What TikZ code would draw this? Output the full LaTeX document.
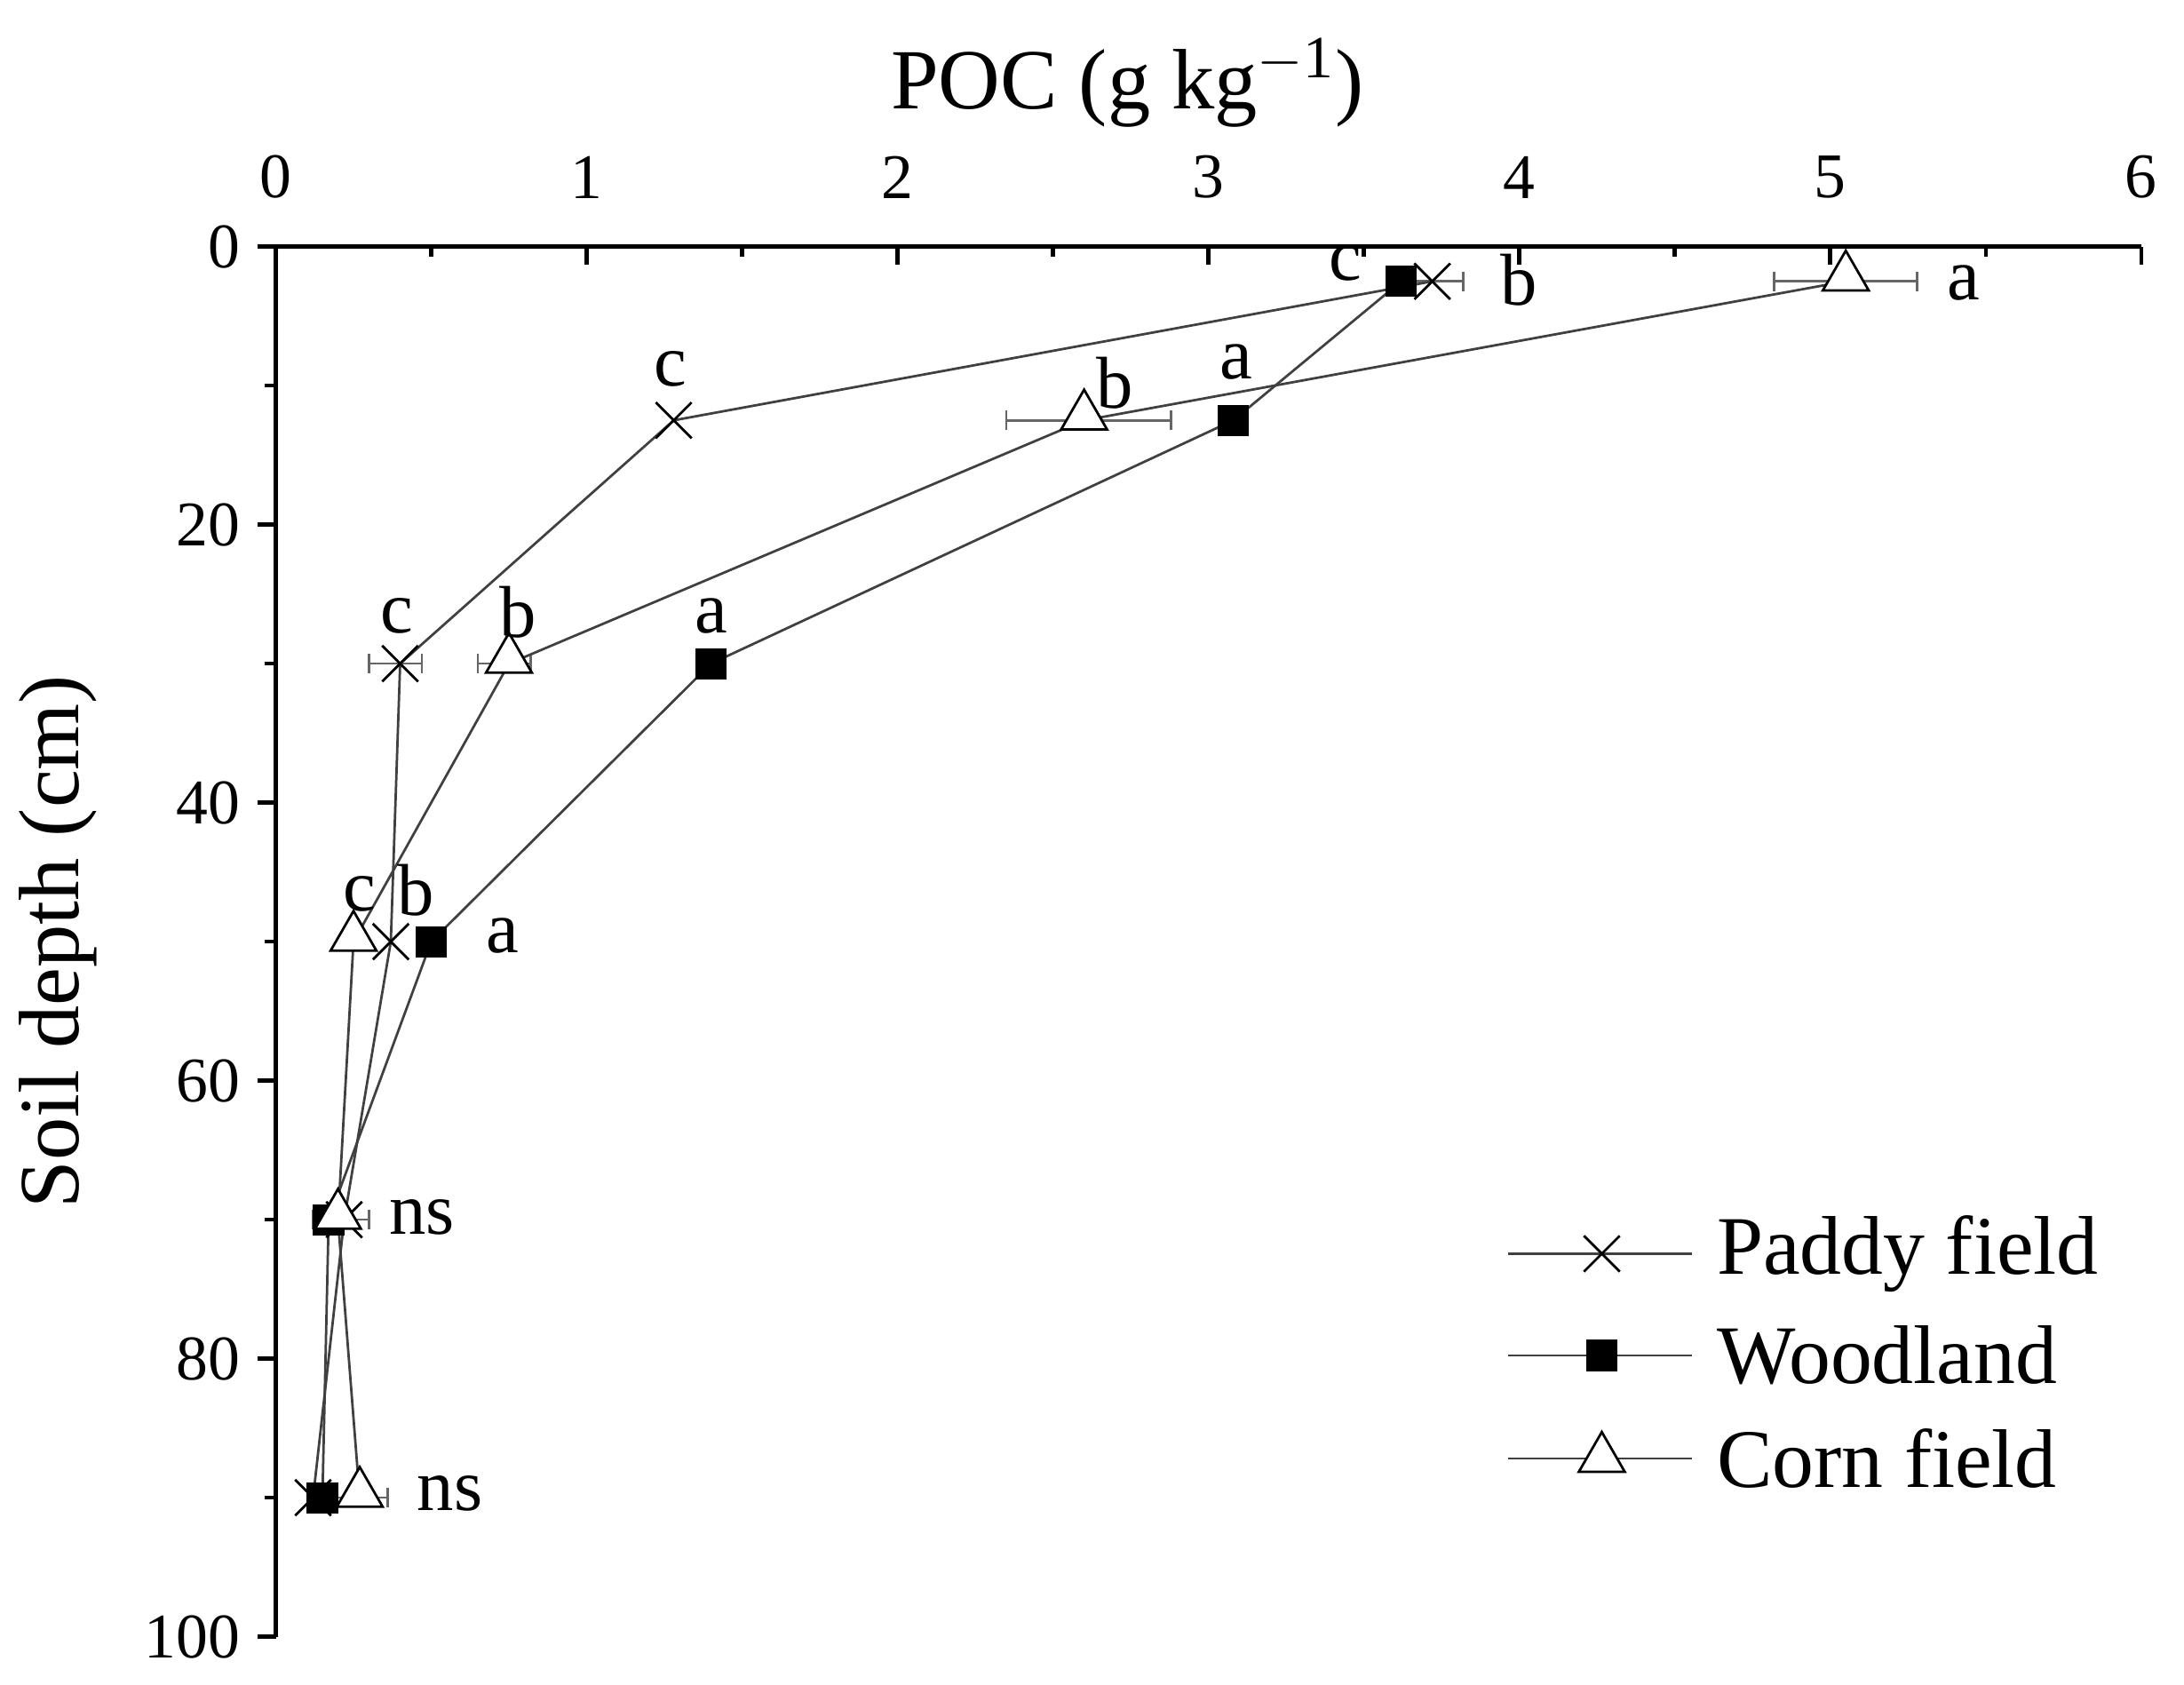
\documentclass[tikz,border=0pt]{standalone}
\usepackage{fontspec}
\setmainfont{Liberation Serif}
\usetikzlibrary{shapes.misc,shapes.geometric}
\begin{document}
\begin{tikzpicture}[
  pad/.style={cross out,draw,minimum size=0.24cm,inner sep=0pt,line width=0.5pt},
  wood/.style={rectangle,fill=black,draw=black,minimum size=0.21cm,inner sep=0pt},
  corn/.style={regular polygon,regular polygon sides=3,draw,fill=white,minimum size=0.38cm,inner sep=0pt,line width=0.5pt},
  conn/.style={black!75,line width=0.5pt},
  ebar/.style={black!60,line width=0.5pt},
  lab/.style={font=\fontsize{15}{17}\selectfont,inner sep=0pt},
  tick/.style={font=\fontsize{13}{15}\selectfont}]
\useasboundingbox (0,0) rectangle (15.68,-12.09);
\begin{scope}[shift={(1.98,-1.77)},x=2.232cm,y=-0.0998cm]
% axes
\draw[line width=0.8pt] (6,0) -- (0,0) -- (0,100);
\foreach \v in {0,...,6}{\draw[line width=0.8pt] (\v,0) -- ++(0,1.3); \node[tick,anchor=south] at (\v,-2.2) {\v};}
\foreach \v in {0.5,1.5,...,5.5}{\draw[line width=0.8pt] (\v,0) -- ++(0,0.7);}
\foreach \v in {0,20,...,100}{\draw[line width=0.8pt] (0,\v) -- ++(-0.06,0); \node[tick,anchor=east] at (-0.06,\v) {\v};}
\foreach \v in {10,30,...,90}{\draw[line width=0.8pt] (0,\v) -- ++(-0.035,0);}
\node[font=\fontsize{17.5}{19}\selectfont] at (2.74,-11.8) {POC (g kg$^{\mathrm{-1}}$)};
\node[font=\fontsize{17.5}{19}\selectfont,rotate=90] at (-0.7,50) {Soil depth (cm)};
% error bars
\foreach \a/\b/\d in {4.82/5.28/2.5, 2.35/2.88/12.5, 3.62/3.82/2.5, 0.65/0.82/30, 0.30/0.47/30, 0.18/0.36/90, 0.12/0.30/70}{
 \draw[ebar] (\a,\d) -- (\b,\d); \draw[ebar] (\a,\d-0.7) -- (\a,\d+0.7); \draw[ebar] (\b,\d-0.7) -- (\b,\d+0.7);}
% nodes
\foreach \n/\x/\y in {1/3.72/2.5,2/1.28/12.5,3/0.40/30,4/0.37/50,5/0.22/70,6/0.12/90}{\coordinate (p\n) at (\x,\y);}
\foreach \n/\x/\y in {1/3.62/2.5,2/3.08/12.5,3/1.40/30,4/0.50/50,5/0.17/70,6/0.15/90}{\coordinate (w\n) at (\x,\y);}
\foreach \n/\x/\y in {1/5.05/2.5,2/2.60/12.5,3/0.75/30,4/0.25/50,5/0.20/70,6/0.27/90}{\coordinate (c\n) at (\x,\y);}
\draw[conn] (p1)--(p2)--(p3)--(p4)--(p5)--(p6);
\draw[conn] (w1)--(w2)--(w3)--(w4)--(w5)--(w6);
\draw[conn] (c1)--(c2)--(c3)--(c4)--(c5)--(c6);
\foreach \n in {1,...,6}{\node[wood] (W\n) at (w\n) {};}
\foreach \n in {1,...,6}{\node[pad] (P\n) at (p\n) {};}
\foreach \n in {1,...,6}{\node[corn,yshift=0.03cm] (C\n) at (c\n) {};}
% letters
\node[lab] at (3.44,1.2) {c};
\node[lab] at (4.0,2.4) {b};
\node[lab] at (5.43,2.6) {a};
\node[lab] at (1.27,8.8) {c};
\node[lab] at (2.70,9.8) {b};
\node[lab] at (3.09,8.3) {a};
\node[lab] at (0.39,26.6) {c};
\node[lab] at (0.78,26.3) {b};
\node[lab] at (1.40,26.6) {a};
\node[lab] at (0.27,46.6) {c};
\node[lab] at (0.45,46.3) {b};
\node[lab] at (0.73,49.6) {a};
\node[lab] at (0.47,69.8) {ns};
\node[lab] at (0.56,89.7) {ns};
\end{scope}
% legend
\begin{scope}[font=\fontsize{17}{19}\selectfont]
\foreach \k/\y/\s/\t in {lp/-9.0/pad/Paddy field,lw/-9.73/wood/Woodland,lc/-10.47/corn/Corn field}{
 \coordinate (\k a) at (10.83,\y); \coordinate (\k b) at (12.15,\y);
 \draw[conn] (\k a) -- (\k b);
 \node[\s] (\k m) at (11.5,\y) {};
 \node[anchor=west,inner sep=0pt] (\k t) at (12.32,\y) {\t};}
\end{scope}
\end{tikzpicture}
\end{document}
